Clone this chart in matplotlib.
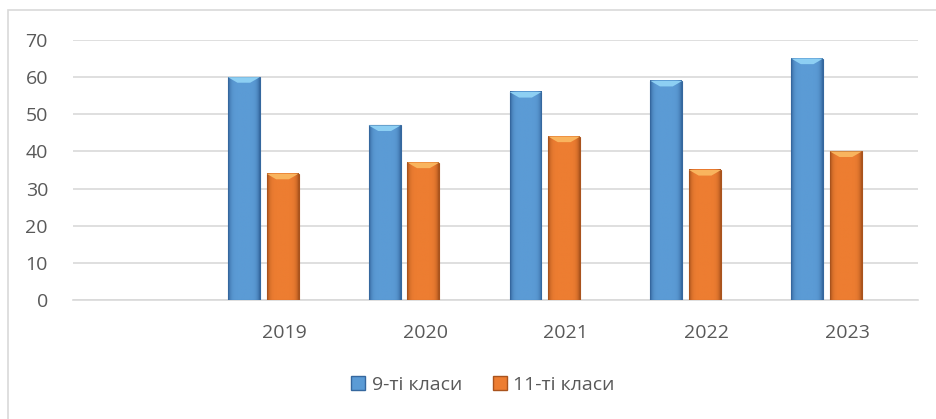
import numpy as np
import matplotlib.pyplot as plt
from matplotlib.patches import Rectangle
from matplotlib.colors import LinearSegmentedColormap

# data
years = ['', '2019', '2020', '2021', '2022', '2023']
grade9 = [None, 60, 47, 56, 59, 65]
grade11 = [None, 34, 37, 44, 35, 40]
series_names = ['9-ті класи', '11-ті класи']

plt.rcParams['font.family'] = ['Open Sans', 'DejaVu Sans']

fig = plt.figure(figsize=(9.37, 4.19), dpi=100)
ax = fig.add_axes([73/937, 1 - 300/419, 845/937, 260/419])

# chart border
fig.patches.append(Rectangle((8/937, -0.1), 1.0, (1 - 10/419) + 0.1, transform=fig.transFigure,
                             fill=False, edgecolor='#d9d9d9', linewidth=1.2))

x = np.arange(len(years))
w = 0.227
off9 = -0.287
off11 = -0.012


def shaded_bars(xs, vals, base, dark, light):
    cmap = LinearSegmentedColormap.from_list('c', [dark, base])
    g = np.linspace(-1, 1, 60)
    shade = np.clip(1 - np.abs(g) ** 6, 0, 1)
    for xi, v in zip(xs, vals):
        if v is None:
            continue
        ax.imshow(shade.reshape(1, -1), cmap=cmap, vmin=0, vmax=1, aspect='auto',
                  extent=(xi - w/2, xi + w/2, 0, v), zorder=3, interpolation='bilinear')
        ax.add_patch(Rectangle((xi - w/2, 0), w, v, fill=False, edgecolor=dark, linewidth=0.8, zorder=4))
        # bevelled top
        ax.fill([xi - w/2, xi + w/2, xi + w*0.2, xi - w*0.2], [v, v, v - 1.5, v - 1.5],
                color=light, zorder=5, linewidth=0)


shaded_bars(x + off9, grade9, '#5b9bd5', '#35679e', '#8dcff3')
shaded_bars(x + off11, grade11, '#ed7d31', '#a9531d', '#f9b45e')

ax.set_xlim(-0.5, len(years) - 0.5)
ax.set_ylim(0, 70)
ax.set_yticks(range(0, 71, 10))
ax.set_xticks(x)
ax.set_xticklabels(years)
ax.tick_params(axis='both', length=0, labelsize=14, labelcolor='#595959')
ax.tick_params(axis='x', pad=17)
ax.tick_params(axis='y', pad=18)
ax.grid(axis='y', color='#d9d9d9', linewidth=1.2, zorder=0)
ax.set_axisbelow(True)
for s in ['top', 'right', 'left']:
    ax.spines[s].set_visible(False)
ax.spines['bottom'].set_color('#d9d9d9')
ax.spines['bottom'].set_linewidth(1.2)

handles = [Rectangle((0, 0), 1, 1, facecolor='#5b9bd5', edgecolor='#35679e'),
           Rectangle((0, 0), 1, 1, facecolor='#ed7d31', edgecolor='#a9531d')]
leg = fig.legend(handles, series_names, loc='center', bbox_to_anchor=(483/937, 1 - 385/419),
                 ncol=2, frameon=False, fontsize=14, handlelength=0.7, handleheight=0.7,
                 handletextpad=0.35, columnspacing=1.6)
for t in leg.get_texts():
    t.set_color('#595959')

fig.savefig('out.png', dpi=100)
